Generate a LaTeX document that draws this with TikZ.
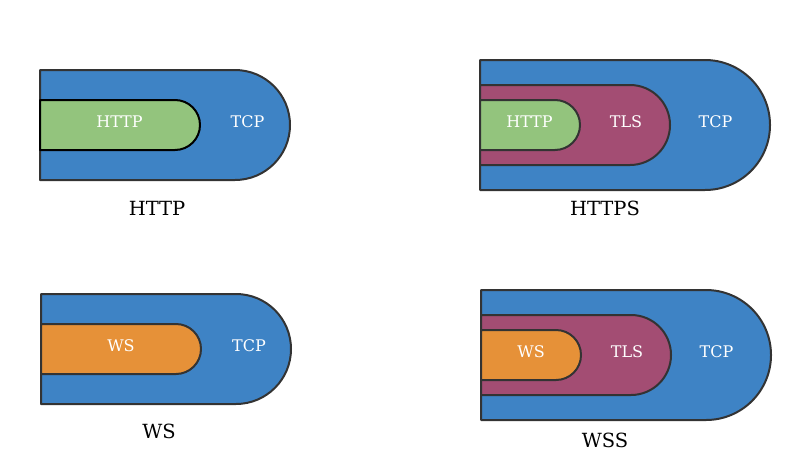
\documentclass[tikz,border=0pt]{standalone}
\usepackage{fontspec}
\setmainfont{DejaVu Serif}
\definecolor{tcpblue}{HTML}{3E83C5}
\definecolor{httpgreen}{HTML}{93C47D}
\definecolor{tlspurple}{HTML}{A34D73}
\definecolor{wsorange}{HTML}{E69138}
\definecolor{edge}{HTML}{333333}
\newcommand\pill[5]{\filldraw[#5] (#1,#2) -- ({#4-(#3-#2)/2},#2) arc[start angle=90,end angle=-90,radius={(#3-#2)/2*1pt}] -- (#1,#3) -- cycle;}
\begin{document}
\begin{tikzpicture}[x=1pt,y=-1pt,
  layer/.style={draw=edge,line width=2pt,line join=round},
  intext/.style={text=white,font=\fontsize{16}{16}\selectfont,inner sep=0pt},
  caption/.style={text=black,font=\fontsize{19.5}{19.5}\selectfont,inner sep=0pt}]
\useasboundingbox (0,0) rectangle (791,474);
% HTTP
\pill{40}{70}{180}{290}{layer,fill=tcpblue}
\pill{40}{100}{150}{200}{layer,draw=black,fill=httpgreen}
\node[intext] (h1) at (119.5,122) {HTTP};
\node[intext] (t1) at (247.5,122) {TCP};
\node[caption] (c1) at (157,208) {HTTP};
% HTTPS
\pill{480}{60}{190}{770}{layer,fill=tcpblue}
\pill{480}{85}{165}{670}{layer,fill=tlspurple}
\pill{480}{100}{150}{580}{layer,fill=httpgreen}
\node[intext] (h2) at (529.5,122) {HTTP};
\node[intext] (l2) at (626,122) {TLS};
\node[intext] (t2) at (715.5,122) {TCP};
\node[caption] (c2) at (605,208) {HTTPS};
% WS
\pill{41}{294}{404}{291}{layer,fill=tcpblue}
\pill{41}{324}{374}{201}{layer,fill=wsorange}
\node[intext] (w3) at (121,346) {WS};
\node[intext] (t3) at (249,346) {TCP};
\node[caption] (c3) at (159,431) {WS};
% WSS
\pill{481}{290}{420}{771}{layer,fill=tcpblue}
\pill{481}{315}{395}{671}{layer,fill=tlspurple}
\pill{481}{330}{380}{581}{layer,fill=wsorange}
\node[intext] (w4) at (531,352) {WS};
\node[intext] (l4) at (627,352) {TLS};
\node[intext] (t4) at (716.5,352) {TCP};
\node[caption] (c4) at (605,440) {WSS};
\end{tikzpicture}
\end{document}
